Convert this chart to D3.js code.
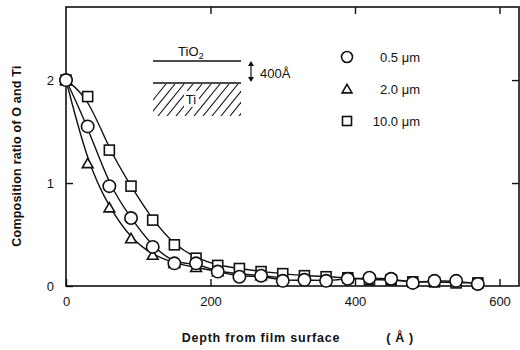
<!DOCTYPE html>
<html>
<head>
<meta charset="utf-8">
<script src="https://cdn.jsdelivr.net/npm/d3@7"></script>
<style>
  body { margin: 0; background: #fff; }
  svg { font-family: "Liberation Sans", Arial, sans-serif; }
  .axis path { display: none; }
  .axis line { stroke: #111; stroke-width: 1.4; }
  .axis text { font-size: 13px; fill: #111; }
  .title { font-size: 12.5px; font-weight: bold; fill: #111; }
</style>
</head>
<body>
<svg id="chart" width="520" height="350"></svg>
<script>
// data (depth in Angstrom)
const depth = [0, 30, 60, 90, 120, 150, 180, 210, 240, 270, 300, 330, 360, 390, 420, 450, 480, 510, 540, 570];
const ratio05 = [2.0, 1.55, 0.97, 0.66, 0.38, 0.22, 0.22, 0.14, 0.09, 0.10, 0.05, 0.06, 0.05, 0.07, 0.08, 0.07, 0.03, 0.05, 0.05, 0.02];
const depthTri = [0, 30, 60, 90, 120, 150, 180, 210, 240, 270, 300];
const ratio20 = [2.0, 1.19, 0.76, 0.46, 0.30, 0.22, 0.18, 0.14, 0.12, 0.10, 0.08];
const ratio100 = [2.0, 1.84, 1.32, 0.97, 0.64, 0.40, 0.27, 0.20, 0.17, 0.14, 0.12, 0.10, 0.09, 0.08, 0.06, 0.06, 0.04, 0.04, 0.03, 0.03];

const xTicks = [0, 200, 400, 600];
const yTicks = [0, 1, 2];
const legendLabels = ['0.5 μm', '2.0 μm', '10.0 μm'];

const svg = d3.select('#chart');
const x = d3.scaleLinear().domain([0, 627]).range([66, 519]);
const y = d3.scaleLinear().domain([0, 2.71]).range([286, 7]);

// frame
svg.append('rect')
    .attr('x', x(0)).attr('y', y(2.71))
    .attr('width', x(627) - x(0)).attr('height', y(0) - y(2.71))
    .attr('fill', 'none').attr('stroke', '#111').attr('stroke-width', 1.6);

// axes, ticks point inward
svg.append('g').attr('class', 'axis')
    .attr('transform', `translate(0,${y(0)})`)
    .call(d3.axisBottom(x).tickValues(xTicks).tickSize(-7).tickPadding(11).tickFormat(d3.format('d')));
svg.append('g').attr('class', 'axis')
    .attr('transform', `translate(${x(0)},0)`)
    .call(d3.axisLeft(y).tickValues(yTicks).tickSize(-7).tickPadding(12).tickFormat(d3.format('d')));
svg.append('g').attr('class', 'axis')
    .attr('transform', `translate(0,${y(2.71)})`)
    .call(d3.axisTop(x).tickValues(xTicks.slice(1)).tickSize(-7).tickFormat(''));
svg.append('g').attr('class', 'axis')
    .attr('transform', `translate(${x(627)},0)`)
    .call(d3.axisRight(y).tickValues(yTicks.slice(1)).tickSize(-7).tickFormat(''));

// fitted curves
const line = d3.line()
    .x(d => x(d[0]))
    .y(d => y(d[1]))
    .curve(d3.curveBasis);

const series = [
    { xs: depthTri, ys: ratio20 },
    { xs: depth, ys: ratio100 },
    { xs: depth, ys: ratio05 }
];
series.forEach(s => {
    svg.append('path')
        .datum(s.xs.map((d, i) => [d, s.ys[i]]))
        .attr('d', line)
        .attr('fill', 'none')
        .attr('stroke', '#111')
        .attr('stroke-width', 1.4);
});

// markers
const markStyle = sel => sel.attr('fill', '#fff').attr('stroke', '#111').attr('stroke-width', 1.6);

svg.append('g').selectAll('path')
    .data(depthTri.map((d, i) => [d, ratio20[i]]))
    .join('path')
    .attr('d', d3.symbol(d3.symbolTriangle, 50))
    .attr('transform', d => `translate(${x(d[0])},${y(d[1]) + 1})`)
    .call(markStyle);

svg.append('g').selectAll('rect')
    .data(depth.map((d, i) => [d, ratio100[i]]))
    .join('rect')
    .attr('x', d => x(d[0]) - 5).attr('y', d => y(d[1]) - 5)
    .attr('width', 10).attr('height', 10)
    .call(markStyle);

svg.append('g').selectAll('circle')
    .data(depth.map((d, i) => [d, ratio05[i]]))
    .join('circle')
    .attr('cx', d => x(d[0])).attr('cy', d => y(d[1]))
    .attr('r', 6.2)
    .call(markStyle);

// legend
const lg = svg.append('g');
const legY = [57, 89, 121];
lg.append('circle').attr('cx', 347).attr('cy', legY[0]).attr('r', 5.5).call(markStyle);
lg.append('path').attr('d', d3.symbol(d3.symbolTriangle, 42))
    .attr('transform', `translate(347,${legY[1] + 1})`).call(markStyle);
lg.append('rect').attr('x', 342.5).attr('y', legY[2] - 4.5).attr('width', 9).attr('height', 9).call(markStyle);
legendLabels.forEach((t, i) => {
    lg.append('text')
        .attr('x', 420).attr('y', legY[i]).attr('dy', '0.35em')
        .attr('text-anchor', 'end')
        .attr('font-size', 13).attr('fill', '#111')
        .text(t);
});

// inset: TiO2 layer on Ti
const ins = svg.append('g');
const clip = svg.append('clipPath').attr('id', 'hclip');
clip.append('rect').attr('x', 153).attr('y', 84).attr('width', 88).attr('height', 32);
const hatch = ins.append('g').attr('clip-path', 'url(#hclip)');
d3.range(140, 260, 9).forEach(h => {
    hatch.append('line')
        .attr('x1', h).attr('y1', 116).attr('x2', h + 26).attr('y2', 84)
        .attr('stroke', '#111').attr('stroke-width', 1.1);
});
ins.append('rect').attr('x', 184).attr('y', 91).attr('width', 15).attr('height', 16).attr('fill', '#fff');
ins.append('text').attr('x', 191).attr('y', 104).attr('text-anchor', 'middle')
    .attr('font-size', 13).attr('fill', '#111').text('Ti');
ins.append('line').attr('x1', 153).attr('x2', 241).attr('y1', 61).attr('y2', 61)
    .attr('stroke', '#111').attr('stroke-width', 1.3);
ins.append('line').attr('x1', 153).attr('x2', 241).attr('y1', 83).attr('y2', 83)
    .attr('stroke', '#111').attr('stroke-width', 1.3);
const tio = ins.append('text').attr('x', 191).attr('y', 56).attr('text-anchor', 'middle')
    .attr('font-size', 13).attr('fill', '#111');
tio.append('tspan').text('TiO');
tio.append('tspan').attr('font-size', 9.5).attr('dy', 3).text('2');
// thickness arrow
ins.append('line').attr('x1', 251).attr('x2', 251).attr('y1', 63).attr('y2', 80)
    .attr('stroke', '#111').attr('stroke-width', 1.2);
ins.append('path').attr('d', 'M248,66 L251,61 L254,66 Z').attr('fill', '#111');
ins.append('path').attr('d', 'M248,77 L251,82 L254,77 Z').attr('fill', '#111');
ins.append('text').attr('x', 260).attr('y', 73).attr('dy', '0.35em')
    .attr('font-size', 13).attr('fill', '#111').text('400Å');

// axis titles
svg.append('text').attr('class', 'title')
    .attr('x', 261).attr('y', 342)
    .attr('text-anchor', 'middle').attr('letter-spacing', 0.8)
    .text('Depth from film surface');
svg.append('text').attr('class', 'title')
    .attr('x', 400).attr('y', 342)
    .attr('text-anchor', 'middle').attr('letter-spacing', 0.6)
    .text('( Å )');
svg.append('text').attr('class', 'title')
    .attr('transform', 'translate(21,156) rotate(-90)')
    .attr('text-anchor', 'middle').attr('letter-spacing', 0.2)
    .text('Composition ratio of O and Ti');
</script>
</body>
</html>
